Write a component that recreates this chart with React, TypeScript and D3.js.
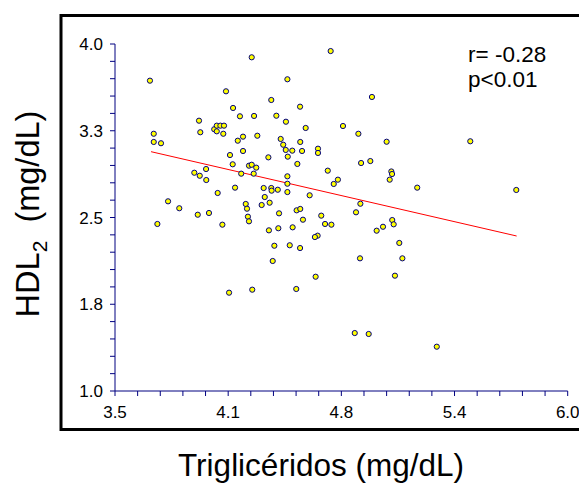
import React from 'react';
import * as d3 from 'd3';

const trig = [
  3.693, 4.255, 4.113, 4.152, 4.190, 4.268, 3.964, 3.971, 3.714, 3.714,
  3.754, 4.048, 4.062, 4.082, 4.102, 4.062, 4.098, 4.178, 4.207, 4.286,
  4.135, 4.207, 4.691, 4.452, 4.363, 4.522, 4.919, 4.391, 4.444, 4.553,
  4.759, 4.844, 5.000, 4.415, 4.429, 4.443, 4.479, 4.523, 4.533, 4.621,
  4.621, 4.347, 4.454, 4.910, 5.462, 4.150, 4.240, 4.255, 4.280, 4.197,
  4.266, 3.938, 4.003, 3.968, 4.004, 4.067, 4.163, 3.793, 3.855, 4.222,
  4.229, 4.310, 3.957, 4.019, 4.234, 4.240, 3.734, 4.093, 4.507, 4.452,
  4.452, 4.452, 4.675, 4.731, 4.708, 4.859, 5.026, 5.030, 5.017, 4.321,
  4.363, 4.365, 4.399, 4.327, 4.354, 4.575, 4.855, 4.831, 4.406, 4.503,
  4.523, 4.538, 4.639, 4.660, 4.695, 4.481, 4.402, 4.350, 5.031, 5.039,
  4.980, 4.945, 4.619, 4.604, 5.070, 4.380, 4.465, 4.522, 4.371, 4.853,
  5.087, 4.608, 5.046, 5.169, 5.716, 4.130, 4.258, 4.501, 4.824, 4.901,
  5.277,
];
const hdl = [
  3.683, 3.885, 3.591, 3.447, 3.375, 3.378, 3.337, 3.237, 3.224, 3.153,
  3.142, 3.263, 3.294, 3.294, 3.294, 3.245, 3.224, 3.164, 3.199, 3.207,
  3.040, 3.075, 3.939, 3.695, 3.516, 3.458, 3.542, 3.380, 3.328, 3.274,
  3.291, 3.224, 3.155, 3.179, 3.129, 3.084, 3.078, 3.153, 3.075, 3.095,
  3.058, 3.020, 3.026, 2.988, 3.159, 2.960, 2.948, 2.956, 2.931, 2.879,
  2.879, 2.887, 2.919, 2.861, 2.824, 2.712, 2.758, 2.640, 2.580, 2.617,
  2.576, 2.608, 2.524, 2.539, 2.507, 2.467, 2.444, 2.438, 2.963, 2.856,
  2.792, 2.720, 2.905, 2.827, 2.790, 2.971, 2.898, 2.876, 2.827, 2.755,
  2.755, 2.732, 2.740, 2.677, 2.628, 2.692, 2.619, 2.545, 2.536, 2.562,
  2.574, 2.481, 2.516, 2.444, 2.438, 2.415, 2.407, 2.389, 2.478, 2.441,
  2.420, 2.386, 2.343, 2.331, 2.280, 2.256, 2.260, 2.236, 2.124, 2.147,
  2.147, 1.988, 1.997, 2.758, 2.738, 1.850, 1.876, 1.882, 1.501, 1.493,
  1.383,
];
const fitX = [3.699, 5.718];
const fitY = [3.069, 2.340];

const xTickValues = [3.5, 4.125, 4.75, 5.375, 6.0];
const xTickLabels = ['3.5', '4.1', '4.8', '5.4', '6.0'];
const yTickValues = [1.0, 1.75, 2.5, 3.25, 4.0];
const yTickLabels = ['1.0', '1.8', '2.5', '3.3', '4.0'];
const statLines = ['r= -0.28', 'p<0.01'];
const xTitle = 'Triglicéridos (mg/dL)';

const W = 579;
const H = 484;
const AXIS = '#000080';
const FONT = 'Arial, "Liberation Sans", Helvetica, sans-serif';

export default function App() {
  const x = d3.scaleLinear().domain([3.5, 6.0]).range([115, 567.7]);
  const y = d3.scaleLinear().domain([1.0, 4.0]).range([391, 44]);
  const xMinor = d3.range(0, 21).map((i) => 3.5 + i * 0.125);
  const yMinor = d3.range(0, 21).map((i) => 1.0 + i * 0.15);
  const line = d3
    .line<number>()
    .x((d, i) => x(fitX[i]))
    .y((d, i) => y(fitY[i]));

  return (
    <svg
      width={W}
      height={H}
      style={{ position: 'absolute', left: 0, top: 0, background: '#fff' }}
      fontFamily={FONT}
    >
      <rect x={0} y={0} width={W} height={H} fill="#fff" />
      <rect x={61} y={15.5} width={560} height={414} fill="none" stroke="#000" strokeWidth={3} />

      {/* axes */}
      <line x1={x(3.5)} x2={x(6.0)} y1={y(1.0)} y2={y(1.0)} stroke={AXIS} strokeWidth={1} />
      <line x1={x(3.5)} x2={x(3.5)} y1={y(1.0)} y2={y(4.0)} stroke={AXIS} strokeWidth={1} />
      {xMinor.map((v, i) => (
        <line key={'xt' + i} x1={x(v)} x2={x(v)} y1={y(1.0)} y2={y(1.0) + 5} stroke={AXIS} strokeWidth={1} />
      ))}
      {yMinor.map((v, i) => (
        <line key={'yt' + i} x1={x(3.5) - 5} x2={x(3.5)} y1={y(v)} y2={y(v)} stroke={AXIS} strokeWidth={1} />
      ))}
      {xTickValues.map((v, i) => (
        <text key={'xl' + i} x={x(v)} y={418} textAnchor="middle" fontSize={17} fill="#000">
          {xTickLabels[i]}
        </text>
      ))}
      {yTickValues.map((v, i) => (
        <text key={'yl' + i} x={103} y={y(v) + 6} textAnchor="end" fontSize={17} fill="#000">
          {yTickLabels[i]}
        </text>
      ))}

      {/* regression line */}
      <path d={line(fitX) || ''} fill="none" stroke="#ff0000" strokeWidth={1} />

      {/* points */}
      {trig.map((v, i) => (
        <circle key={'p' + i} cx={x(v)} cy={y(hdl[i])} r={2.6} fill="#ffff00" stroke={AXIS} strokeWidth={1} />
      ))}

      {/* stats */}
      {statLines.map((s, i) => (
        <text key={'s' + i} x={468} y={62 + i * 25} fontSize={22.5} fill="#000">
          {s}
        </text>
      ))}

      {/* titles */}
      <text x={321} y={476} textAnchor="middle" fontSize={31.5} fill="#000">
        {xTitle}
      </text>
      <text transform="translate(39,214) rotate(-90)" textAnchor="middle" fontSize={32.5} fill="#000">
        HDL
        <tspan fontSize={21} dy={8}>2</tspan>
        <tspan dy={-8}>{'\u00a0\u00a0(mg/dL)'}</tspan>
      </text>
    </svg>
  );
}
